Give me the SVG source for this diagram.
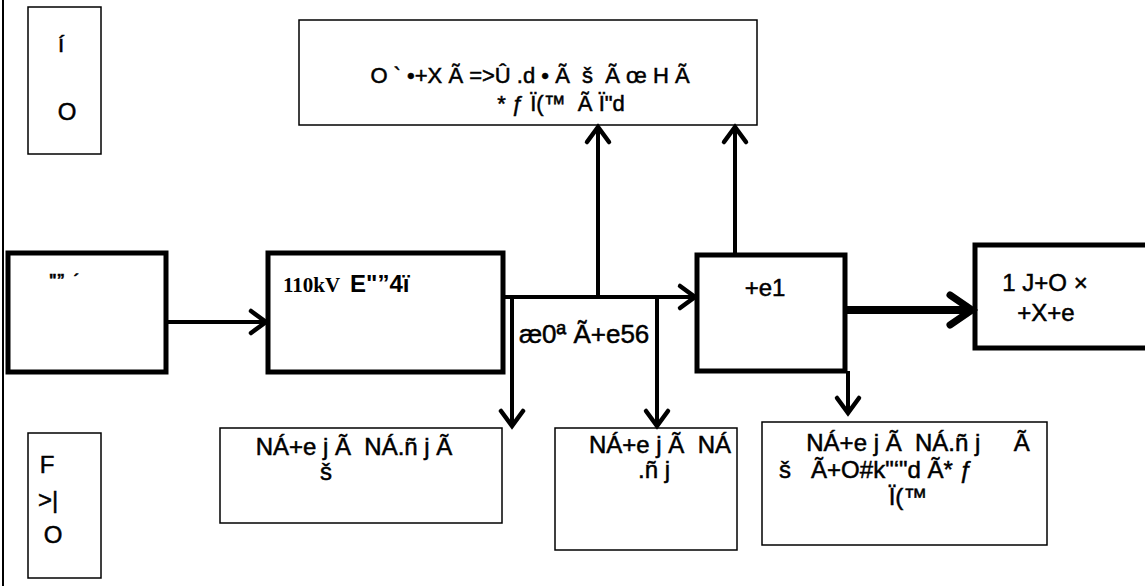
<svg xmlns="http://www.w3.org/2000/svg" width="1145" height="586" viewBox="0 0 1145 586">
<defs>
<style>
.thin{fill:#fff;stroke:#000;stroke-width:1.5}
.thick{fill:#fff;stroke:#000;stroke-width:5}
.t{font-family:"Liberation Sans",Arial,sans-serif;font-size:24px;fill:#000;stroke:#000;stroke-width:0.5;text-anchor:middle;white-space:pre}
.s{text-anchor:start}
.c{fill:none;stroke:#000;stroke-width:4}
.cb{fill:none;stroke:#000;stroke-width:8}
</style>
<marker id="ah" viewBox="-20 -14 24 28" refX="0" refY="0" markerWidth="24" markerHeight="28" markerUnits="userSpaceOnUse" orient="auto" overflow="visible">
<path d="M-15,-11 L0,0 L-15,11" fill="none" stroke="#000" stroke-width="4.5" stroke-linecap="round"/>
</marker>
<marker id="ahb" viewBox="-30 -20 34 40" refX="0" refY="0" markerWidth="34" markerHeight="40" markerUnits="userSpaceOnUse" orient="auto" overflow="visible">
<path d="M-22,-15 L0,0 L-22,15" fill="none" stroke="#000" stroke-width="7" stroke-linecap="round"/>
</marker>
</defs>
<rect width="1145" height="586" fill="#fff"/>
<line x1="3" y1="0" x2="3" y2="586" stroke="#000" stroke-width="2"/>

<g id="legend-top">
<rect class="thin" x="28" y="7" width="73" height="147"/>
<text class="t" x="61" y="52">í</text>
<text class="t" x="67" y="120">O</text>
</g>

<g id="legend-bottom">
<rect class="thin" x="28" y="433" width="73" height="145"/>
<text class="t" x="47" y="473">F</text>
<text class="t" x="48" y="508">&gt;|</text>
<text class="t" x="53" y="543">O</text>
</g>

<g id="node-top">
<rect class="thin" x="299" y="20" width="458" height="105"/>
<text class="t" x="530" y="83" style="font-size:22px">O ` •+X Ã =&gt;Û .d • Ã  š  Ã œ H Ã</text>
<text class="t" x="561" y="111" style="font-size:22px">* ƒ Ï(™  Ã Ï"d</text>
</g>

<g id="node-source">
<rect class="thick" x="8" y="253" width="158" height="119"/>
<text class="t" x="64" y="286" style="font-size:16px;font-weight:bold">"”  ´</text>
</g>

<g id="node-110kv">
<rect class="thick" x="268" y="253" width="235" height="119"/>
<text x="283" y="292" style="font-family:'Liberation Serif','Times New Roman',serif;font-weight:bold;font-size:21px">110kV</text>
<text x="350" y="292" style="font-family:'Liberation Sans',Arial,sans-serif;font-weight:bold;font-size:24px">E"”4ï</text>
</g>

<g id="node-center">
<rect class="thick" x="697" y="255" width="148" height="116"/>
<text class="t" x="765" y="296">+e1</text>
</g>

<g id="node-right">
<rect class="thick" x="975" y="245" width="175" height="103"/>
<text class="t" x="1045" y="291">1 J+O ×</text>
<text class="t" x="1046" y="321">+X+e</text>
</g>

<g id="node-b1">
<rect class="thin" x="220" y="428" width="282" height="95"/>
<text class="t" x="354" y="455">NÁ+e j Ã  NÁ.ñ j Ã</text>
<text class="t" x="326" y="480">š</text>
</g>

<g id="node-b2">
<rect class="thin" x="555" y="428" width="182" height="122"/>
<text class="t" x="660" y="453">NÁ+e j Ã  NÁ</text>
<text class="t" x="654" y="478">.ñ j</text>
</g>

<g id="node-b3">
<rect class="thin" x="762" y="422" width="285" height="123"/>
<text class="t" x="918" y="451">NÁ+e j Ã  NÁ.ñ j     Ã</text>
<text class="t" x="876" y="478">š   Ã+O#k"‘"d Ã* ƒ</text>
<text class="t" x="908" y="505">Ï(™</text>
</g>

<g id="label-mid">
<text class="t s" x="519" y="343" style="font-size:26px">æ0ª Ã+e56</text>
</g>

<g id="connectors">
<line class="c" x1="166" y1="322" x2="266" y2="322" marker-end="url(#ah)"/>
<polyline class="c" points="503,297 695,297" marker-end="url(#ah)"/>
<line class="c" x1="598" y1="295" x2="598" y2="127" marker-end="url(#ah)"/>
<line class="c" x1="735" y1="255" x2="735" y2="127" marker-end="url(#ah)"/>
<line class="c" x1="512" y1="297" x2="512" y2="426" marker-end="url(#ah)"/>
<line class="c" x1="657" y1="297" x2="657" y2="426" marker-end="url(#ah)"/>
<line class="c" x1="848" y1="371" x2="848" y2="413" marker-end="url(#ah)"/>
<line class="cb" x1="847" y1="310" x2="972" y2="310" marker-end="url(#ahb)"/>
</g>
</svg>
